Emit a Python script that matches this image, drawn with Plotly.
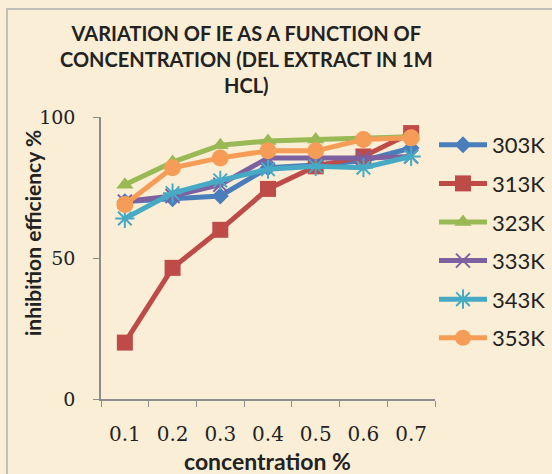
import plotly.graph_objects as go

concentration = ["0.1", "0.2", "0.3", "0.4", "0.5", "0.6", "0.7"]
series_names = ["303K", "313K", "323K", "333K", "343K", "353K"]
ie_303 = [70, 71, 72, 82, 83, 84.5, 89]
ie_313 = [20, 46.5, 60, 74.5, 82.5, 86, 94.3]
ie_323 = [76, 84, 90, 91.5, 92, 92.3, 93]
ie_333 = [70, 72, 76, 85.5, 85.5, 85.5, 86]
ie_343 = [64, 73, 77.5, 81.5, 82.5, 82, 86]
ie_353 = [69, 82, 85.5, 88, 88, 92, 92.6]
y_ticks = [0, 50, 100]

values = [ie_303, ie_313, ie_323, ie_333, ie_343, ie_353]
colors = ["#4A7EBB", "#BE4B48", "#98B954", "#7D60A0", "#46AAC5", "#F59D56"]
markers = [
    dict(symbol="diamond", size=13),
    dict(symbol="square", size=16),
    dict(symbol="triangle-up", size=15),
    dict(symbol="x-thin-open", size=14, line=dict(width=2)),
    dict(symbol="asterisk-open", size=16, line=dict(width=2)),
    dict(symbol="circle", size=17),
]

W, H = 552, 474
L, R, T, B = 101, 435, 117, 399
BEIGE = "#FAEED6"

fig = go.Figure()
for i, (name, vals) in enumerate(zip(series_names, values)):
    m = dict(markers[i])
    m["color"] = colors[i]
    if "line" in m:
        m["line"] = dict(width=m["line"]["width"], color=colors[i])
    fig.add_trace(go.Scatter(
        x=concentration, y=vals, name=name, mode="lines+markers",
        line=dict(color=colors[i], width=5), marker=m,
        legendgroup=name,
    ))

def px(x):
    return (x - L) / (R - L)

def py(y):
    return (B - y) / (B - T)

fig.update_layout(
    width=W, height=H,
    margin=dict(l=L, r=W - R, t=T, b=H - B, autoexpand=False),
    paper_bgcolor=BEIGE,
    plot_bgcolor="white",
    showlegend=True,
    legend=dict(
        x=px(434), y=py(124), xanchor="left", yanchor="top",
        font=dict(family="Lato", size=22, color="#222"),
        bgcolor="rgba(0,0,0,0)", tracegroupgap=7,
        itemwidth=48,
    ),
    shapes=[
        dict(type="rect", xref="paper", yref="paper", layer="below",
             x0=px(7), x1=px(560), y0=py(9), y1=py(480),
             fillcolor=BEIGE, line=dict(color="#B0B0B0", width=1.5)),
    ],
    annotations=[
        dict(text="<b>VARIATION OF IE AS A FUNCTION OF<br>CONCENTRATION (DEL EXTRACT IN 1M<br>HCL)</b>",
             xref="paper", yref="paper", x=px(246), y=py(59), xanchor="center", yanchor="middle",
             showarrow=False, font=dict(family="Lato", size=20, color="#222"), align="center"),
        dict(text="<b>inhibition efficiency %</b>", xref="paper", yref="paper",
             x=px(32), y=py(233), textangle=-90, showarrow=False,
             font=dict(family="Lato", size=21, color="#222"), xanchor="center", yanchor="middle"),
        dict(text="<b>concentration %</b>", xref="paper", yref="paper",
             x=px(267), y=py(461), showarrow=False,
             font=dict(family="Lato", size=23, color="#222"), xanchor="center", yanchor="middle"),
    ],
)

fig.update_xaxes(
    type="category", categoryorder="array", categoryarray=concentration,
    showgrid=False, zeroline=False, showline=True, linecolor="#8C8C8C", linewidth=1.5,
    ticks="outside", ticklen=6, tickcolor="#8C8C8C", tickson="boundaries",
    ticklabelstandoff=16,
    tickfont=dict(family="DejaVu Serif", size=20, color="#222"),
    range=[-0.5, 6.5],
)
fig.update_yaxes(
    range=[0, 100], tickvals=y_ticks,
    showgrid=False, zeroline=False, showline=True, linecolor="#8C8C8C", linewidth=1.5,
    ticks="outside", ticklen=6, tickcolor="#8C8C8C",
    ticklabelstandoff=14,
    tickfont=dict(family="DejaVu Serif", size=19, color="#222"),
)

fig.write_html("out.html")
